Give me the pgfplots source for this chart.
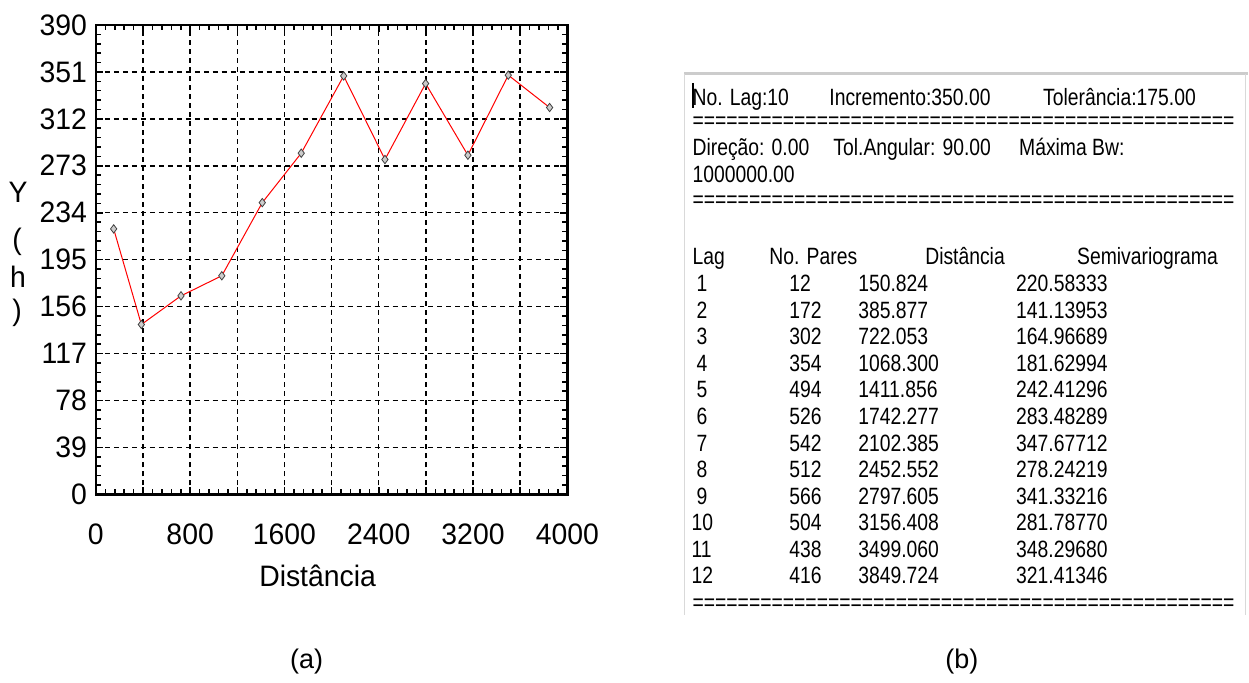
\documentclass[border=0pt]{standalone}
\usepackage{fontspec}
\setmainfont{Liberation Sans}
\newfontfamily\plotfamily[FakeStretch=0.96]{Liberation Sans}
\newfontfamily\tablefamily[FakeStretch=0.82]{Liberation Sans}
\usepackage{pgfplots}
\usepackage{pgfplotstable}
\pgfplotsset{compat=1.18}

\newcommand{\plotfont}{\plotfamily\fontsize{14.8}{17}\selectfont}
\newcommand{\tabfont}{\tablefamily\fontsize{11.8}{14}\selectfont}

% Experimental semivariogram: lag, number of pairs, mean distance, semivariance
\pgfplotstableread{
lag pares dist gamma
1   12  150.824  220.58333
2   172 385.877  141.13953
3   302 722.053  164.96689
4   354 1068.300 181.62994
5   494 1411.856 242.41296
6   526 1742.277 283.48289
7   542 2102.385 347.67712
8   512 2452.552 278.24219
9   566 2797.605 341.33216
10  504 3156.408 281.78770
11  438 3499.060 348.29680
12  416 3849.724 321.41346
}\semivar

\newcommand{\eqline}{================================================}

\begin{document}
\begin{tikzpicture}
\begin{scope}[x=0.5pt,y=-0.5pt]
\path[use as bounding box] (0,0) rectangle (1249,683);
\end{scope}

\begin{axis}[
  at={(48pt,-247.5pt)}, anchor=south west,
  width=236pt, height=235pt, scale only axis,
  xmin=0, xmax=4000, ymin=0, ymax=390,
  xtick={0,400,...,4000},
  xticklabels={0,{},800,{},1600,{},2400,{},3200,{},4000},
  ytick={0,39,...,390},
  minor xtick={0,80,...,4000},
  minor ytick={0,7.8,...,390},
  tick align=inside, tick pos=both,
  major tick length=3.5pt, minor tick length=2.5pt,
  tick style={black, line width=0.8pt},
  axis line style={black, line width=1.2pt},
  xmajorgrids, ymajorgrids, xminorgrids=false, yminorgrids=false,
  major grid style={black, line width=0.7pt, dash pattern=on 2.5pt off 2pt},
  /pgf/number format/assume math mode=true,
  ticklabel style={font=\plotfont, inner sep=0pt},
  xticklabel style={anchor=north, yshift=-14.5pt},
  yticklabel style={anchor=east, xshift=-4.3pt},
  clip=false,
]
\addplot[red, line width=0.5pt, mark=diamond*, mark size=2.1pt,
  mark options={fill=black!20, draw=black!75, line width=0.4pt}]
  table[x=dist, y=gamma] {\semivar};
\end{axis}

\begin{scope}[x=0.5pt,y=-0.5pt]
% axis titles of the semivariogram plot
\node[font=\plotfont, inner sep=0pt] at (318,577) {Distância};
\node[font=\plotfont, inner sep=0pt, anchor=base] at (18,203) {Y};
\node[font=\plotfont, inner sep=0pt, anchor=base] at (17,250) {(};
\node[font=\plotfont, inner sep=0pt, anchor=base] at (18,288) {h};
\node[font=\plotfont, inner sep=0pt, anchor=base] at (17,321) {)};

% panel captions
\node[font=\fontsize{13.5}{16}\selectfont, inner sep=0pt] at (307,662) {(a)};
\node[font=\fontsize{13.5}{16}\selectfont, inner sep=0pt] at (963,662) {(b)};

% report window
\draw[black!20, line width=1.5pt] (685,74) -- (1249,74);
\draw[black!15, line width=0.5pt] (685,74) -- (685,616);
\draw[black!15, line width=0.5pt] (1247,74) -- (1247,616);
\draw[black, line width=1.2pt] (694,83) -- (694,108);

\begin{scope}
\tikzset{every node/.style={font=\tabfont, inner sep=0pt, anchor=base west}}
\node at (693,106) {No. Lag:10};
\node at (830,106) {Incremento:350.00};
\node at (1044,106) {Tolerância:175.00};
\node at (693,129) {\eqline};
\node at (693,156) {Direção: 0.00};
\node at (834,156) {Tol.Angular: 90.00};
\node at (1020,156) {Máxima Bw:};
\node at (693,183) {1000000.00};
\node at (693,208) {\eqline};
\node at (693,265) {Lag};
\node at (770,265) {No. Pares};
\node at (926,265) {Distância};
\node at (1078,265) {Semivariograma};
\foreach \lx/\l/\p/\d/\g [count=\i from 0] in {
  697/1/12/150.824/220.58333,
  697/2/172/385.877/141.13953,
  697/3/302/722.053/164.96689,
  697/4/354/1068.300/181.62994,
  697/5/494/1411.856/242.41296,
  697/6/526/1742.277/283.48289,
  697/7/542/2102.385/347.67712,
  697/8/512/2452.552/278.24219,
  697/9/566/2797.605/341.33216,
  692/10/504/3156.408/281.78770,
  692/11/438/3499.060/348.29680,
  692/12/416/3849.724/321.41346}{
  \node at (\lx,{292+26.6*\i}) {\l};
  \node at (790,{292+26.6*\i}) {\p};
  \node at (859,{292+26.6*\i}) {\d};
  \node at (1017,{292+26.6*\i}) {\g};
}
\node at (693,611) {\eqline};
\end{scope}
\end{scope}
\end{tikzpicture}
\end{document}
